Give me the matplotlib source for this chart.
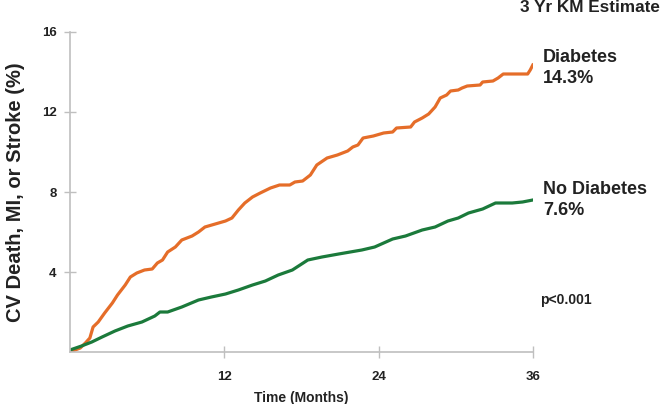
import numpy as np
import matplotlib
matplotlib.use("Agg")
import matplotlib.pyplot as plt

plt.rcParams['font.family'] = ['Liberation Sans', 'DejaVu Sans']
plt.rcParams['font.weight'] = 'bold'

# Kaplan-Meier curves (months, % with event)
diab_months = [0, 0.8, 1.2, 1.55, 1.8, 2.2, 2.7, 3.3, 3.7, 4.3, 4.7, 5.2, 5.8, 6.4, 6.8,
               7.2, 7.6, 8.2, 8.7, 9.5, 10.0, 10.5, 11.3, 12.1, 12.6, 13.1, 13.6, 14.2,
               14.8, 15.6, 16.3, 17.1, 17.5, 18.1, 18.7, 19.2, 20.0, 20.8, 21.6, 22.0,
               22.4, 22.8, 23.6, 24.4, 25.1, 25.4, 26.5, 26.8, 27.4, 27.9, 28.4, 28.8,
               29.3, 29.6, 30.2, 30.5, 30.9, 31.9, 32.1, 32.9, 33.3, 33.7, 35.6, 35.8, 36.0]
diab_pct = [0, 0.2, 0.45, 0.7, 1.25, 1.5, 1.95, 2.45, 2.85, 3.35, 3.75, 3.95, 4.1, 4.15, 4.45,
            4.6, 5.0, 5.25, 5.6, 5.8, 6.0, 6.25, 6.4, 6.55, 6.7, 7.1, 7.45, 7.75,
            7.95, 8.2, 8.35, 8.35, 8.5, 8.55, 8.85, 9.35, 9.7, 9.85, 10.05, 10.25,
            10.35, 10.7, 10.8, 10.95, 11.0, 11.2, 11.25, 11.5, 11.7, 11.9, 12.25, 12.7,
            12.85, 13.05, 13.1, 13.2, 13.3, 13.35, 13.5, 13.55, 13.7, 13.9, 13.9, 14.1, 14.35]

nodiab_months = [0, 0.9, 1.7, 2.5, 3.5, 4.5, 5.6, 6.6, 7.0, 7.6, 8.7, 10.0, 11.0, 12.1,
                 13.1, 14.2, 15.2, 16.2, 17.3, 18.5, 19.6, 20.9, 22.7, 23.7, 25.1, 26.1,
                 27.4, 28.4, 29.4, 30.2, 31.0, 32.1, 33.1, 34.4, 35.2, 36.0]
nodiab_pct = [0.1, 0.3, 0.5, 0.75, 1.05, 1.3, 1.5, 1.8, 2.0, 2.0, 2.25, 2.6, 2.75, 2.9,
              3.1, 3.35, 3.55, 3.85, 4.1, 4.6, 4.75, 4.9, 5.1, 5.25, 5.65, 5.8,
              6.1, 6.25, 6.55, 6.7, 6.95, 7.15, 7.45, 7.45, 7.5, 7.6]

x_ticks = [12, 24, 36]
y_ticks = [4, 8, 12, 16]

orange = '#E56D29'
green = '#1B7A3B'
grey = '#BFBFBF'
text_col = '#222222'

fig = plt.figure(figsize=(6.66, 4.04), dpi=100)
ax = fig.add_axes([0.105, 0.1287, 0.695, 0.7921])

ax.plot(diab_months, diab_pct, color=orange, lw=2.3, solid_joinstyle='round')
ax.plot(nodiab_months, nodiab_pct, color=green, lw=2.3, solid_joinstyle='round')

ax.set_xlim(0, 36)
ax.set_ylim(0, 16)
ax.set_xticks(x_ticks)
ax.set_yticks(y_ticks)

for s in ['top', 'right']:
    ax.spines[s].set_visible(False)
for s in ['left', 'bottom']:
    ax.spines[s].set_color(grey)
    ax.spines[s].set_linewidth(1.2)

ax.tick_params(direction='inout', length=9, width=1.0, color=grey,
               labelsize=9.5, labelcolor=text_col)
ax.tick_params(axis='x', pad=9)
ax.tick_params(axis='y', pad=5)
for lab in ax.get_xticklabels() + ax.get_yticklabels():
    lab.set_fontweight('bold')

ax.set_xlabel('Time (Months)', fontsize=10, fontweight='bold', color=text_col, labelpad=6)
ax.set_ylabel('CV Death, MI, or Stroke (%)', fontsize=14.5, fontweight='bold',
              color=text_col, labelpad=12)

fig.text(0.781, 0.962, '3 Yr KM Estimate', fontsize=12.3, fontweight='bold',
         color=text_col, va='bottom')
fig.text(0.815, 0.785, 'Diabetes\n14.3%', fontsize=13, fontweight='bold',
         color=text_col, va='bottom', linespacing=1.3)
fig.text(0.815, 0.458, 'No Diabetes\n7.6%', fontsize=13, fontweight='bold',
         color=text_col, va='bottom', linespacing=1.3)
fig.text(0.811, 0.257, 'p<0.001', fontsize=10, fontweight='bold',
         color=text_col, va='center')

fig.savefig('out.png', dpi=100)
